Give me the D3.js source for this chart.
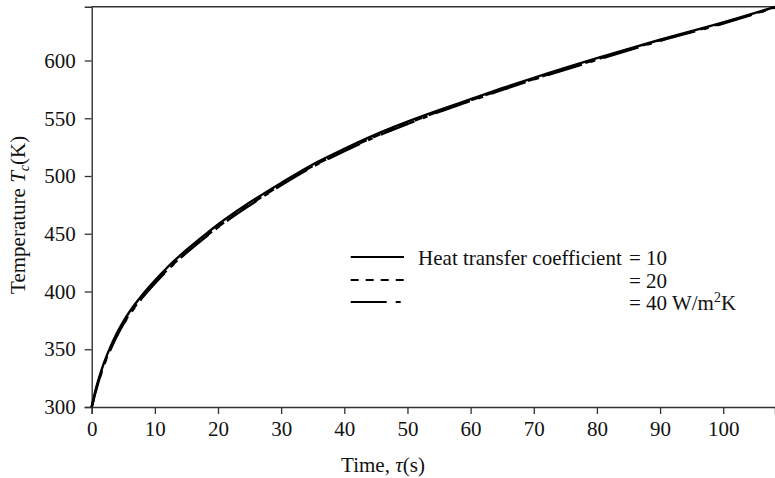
<!DOCTYPE html>
<html>
<head>
<meta charset="utf-8">
<script src="https://cdn.jsdelivr.net/npm/d3@7"></script>
<style>
  html, body { margin: 0; padding: 0; background: #fff; }
  svg { display: block; }
  text { font-family: "Liberation Serif", "Times New Roman", serif; fill: #111; }
</style>
</head>
<body>
<svg id="chart" width="775" height="478"></svg>
<script>
// ---- data ----
const times = [0, 0.5, 1, 1.5, 2, 3, 4, 5, 6, 7, 8, 10, 12, 15, 18, 20, 25, 30, 35, 40, 45, 50, 55, 60, 65, 70, 80, 90, 100, 108.2];
const tempH10 = [300, 312, 322.5, 331, 339, 352.5, 364, 374, 382.5, 390, 397, 409.5, 421, 436, 449.5, 458, 477, 494, 510, 523.5, 536, 547, 557, 566.5, 576, 585, 602, 618, 633, 646.4];
const tempH20 = [300, 311, 321, 329.5, 337.5, 350.5, 362, 372, 380.5, 388, 395, 407.5, 419, 434, 447.5, 456, 475, 492.5, 508.5, 522, 534.5, 545.5, 556, 565.5, 575, 584, 601, 617.5, 632.5, 646];
const tempH40 = [300, 310.5, 320.5, 329, 337, 350, 361.5, 371.5, 380, 387.5, 394.5, 407, 418.5, 433.5, 447, 455.5, 474.5, 492, 508, 521.5, 534, 545, 555.5, 565, 574.5, 583.5, 600.5, 617, 632, 645.8];
const xTicks = [0, 10, 20, 30, 40, 50, 60, 70, 80, 90, 100];
const yTicks = [300, 350, 400, 450, 500, 550, 600];
const seriesNames = ["Heat transfer coefficient = 10", "= 20", "= 40 W/m"];
const seriesDash = [null, "8,7", "36,9,5,9"];

const svg = d3.select("#chart");
const pLeft = 91.7, pRight = 775, pTop = 6.7, pBottom = 407;
const fs = 21;

const x = d3.scaleLinear().domain([0, 108.2]).range([pLeft, pRight]);
const y = d3.scaleLinear().domain([300, 646.6]).range([pBottom, pTop]);

// frame top line
svg.append("line")
  .attr("x1", pLeft).attr("x2", pRight)
  .attr("y1", pTop).attr("y2", pTop)
  .attr("stroke", "#333").attr("stroke-width", 1.4);

// axes
const xAxis = svg.append("g")
  .attr("transform", `translate(0,${pBottom})`)
  .call(d3.axisBottom(x).tickValues(xTicks).tickSize(7).tickPadding(7).tickFormat(d3.format("d")));
const yAxis = svg.append("g")
  .attr("transform", `translate(${pLeft},0)`)
  .call(d3.axisLeft(y).tickValues(yTicks).tickSize(7).tickPadding(9).tickFormat(d3.format("d")));

[xAxis, yAxis].forEach(g => {
  g.select(".domain").attr("stroke", "#333").attr("stroke-width", 1.4);
  g.selectAll(".tick line").attr("stroke", "#333").attr("stroke-width", 1.3);
  g.selectAll(".tick text").attr("font-size", fs).attr("font-family", "Liberation Serif").attr("fill", "#111");
});

// lines
const seriesVals = [tempH10, tempH20, tempH40];
const line = d3.line().x((d, i) => x(times[i])).y(d => y(d)).curve(d3.curveMonotoneX);
[2, 1, 0].forEach(k => {
  svg.append("path")
    .datum(seriesVals[k])
    .attr("d", line)
    .attr("fill", "none")
    .attr("stroke", "#000")
    .attr("stroke-width", 2.4)
    .attr("stroke-dasharray", seriesDash[k]);
});

// legend
const legX1 = 350.7, legX2 = 404, rows = [257, 280, 302];
rows.forEach((ry, k) => {
  svg.append("line")
    .attr("x1", legX1).attr("x2", legX2)
    .attr("y1", ry).attr("y2", ry)
    .attr("stroke", "#000").attr("stroke-width", 2)
    .attr("stroke-dasharray", seriesDash[k]);
});
const eqX = 627;
svg.append("text").attr("x", eqX).attr("y", rows[0] + 8).attr("text-anchor", "end")
  .attr("font-size", fs).attr("xml:space", "preserve").text("Heat transfer coefficient ");
svg.append("text").attr("x", eqX + 2).attr("y", rows[0] + 8).attr("font-size", fs).text("= 10");
svg.append("text").attr("x", eqX + 2).attr("y", rows[1] + 8).attr("font-size", fs).text(seriesNames[1]);
const t3 = svg.append("text").attr("x", eqX + 2).attr("y", rows[2] + 8).attr("font-size", fs);
t3.append("tspan").text(seriesNames[2]);
t3.append("tspan").attr("font-size", 14).attr("dy", -8).text("2");
t3.append("tspan").attr("dy", 8).text("K");

// axis titles
const xt = svg.append("text").attr("x", 383).attr("y", 472).attr("text-anchor", "middle").attr("font-size", fs);
xt.append("tspan").text("Time, ");
xt.append("tspan").attr("font-style", "italic").text("τ");
xt.append("tspan").text("(s)");

const yt = svg.append("text")
  .attr("transform", `translate(25,${(pTop + pBottom) / 2 + 8}) rotate(-90)`)
  .attr("text-anchor", "middle").attr("font-size", fs);
yt.append("tspan").text("Temperature ");
yt.append("tspan").attr("font-style", "italic").text("T");
yt.append("tspan").attr("font-style", "italic").attr("font-size", 14).attr("dy", 4).text("c");
yt.append("tspan").attr("dy", -4).text("(K)");
</script>
</body>
</html>
